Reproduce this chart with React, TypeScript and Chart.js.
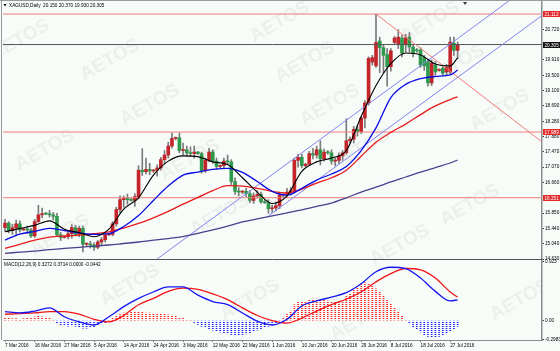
import React, { useEffect, useRef } from 'react';
import { Chart, registerables } from 'chart.js';

Chart.register(...registerables);

// ---------- data ----------
const dateTickLabels = ['7 Mar 2016','16 Mar 2016','27 Mar 2016','5 Apr 2016','14 Apr 2016','24 Apr 2016','3 May 2016','12 May 2016','22 May 2016','1 Jun 2016','10 Jun 2016','20 Jun 2016','29 Jun 2016','8 Jul 2016','18 Jul 2016','27 Jul 2016'];
const barsPerDateTick = 8;

const opens = [15.46,15.58,15.38,15.46,15.56,15.40,15.42,15.40,15.24,15.62,15.80,15.83,15.82,15.80,15.76,15.27,15.20,15.22,15.30,15.46,15.28,15.44,15.02,15.03,15.00,14.94,15.08,15.14,15.27,15.28,15.56,15.94,16.20,16.24,16.20,16.18,16.28,16.98,16.94,17.00,16.96,16.98,17.04,17.26,17.38,17.62,17.82,17.84,17.50,17.52,17.44,17.42,17.46,17.42,16.96,17.24,17.46,17.22,17.08,17.10,17.22,17.20,16.68,16.42,16.40,16.42,16.36,16.18,16.30,16.34,16.14,16.12,15.96,15.98,16.04,16.32,16.34,16.40,16.44,17.24,17.32,17.10,17.14,17.42,17.38,17.52,17.28,17.46,17.44,17.22,17.24,17.36,17.44,17.76,17.80,18.06,18.00,18.36,18.76,19.84,19.74,20.40,20.22,20.04,19.72,20.36,20.30,20.48,20.30,20.50,20.24,20.16,20.16,19.96,19.84,19.29,19.76,19.62,19.68,19.58,19.58,20.34,20.15];
const highs = [15.68,15.62,15.55,15.66,15.64,15.44,15.50,15.44,15.68,16.05,15.98,15.86,15.92,15.86,15.84,15.34,15.24,15.34,15.54,15.52,15.50,15.50,15.06,15.10,15.06,15.12,15.20,15.30,15.30,15.62,16.00,16.30,16.30,16.35,16.24,16.36,17.10,17.55,17.30,17.16,17.00,17.12,17.32,17.50,17.72,17.96,17.86,17.96,17.70,17.62,17.60,17.62,17.48,17.46,17.30,17.56,17.52,17.30,17.12,17.30,17.38,17.26,16.78,16.52,16.44,16.50,16.44,16.38,16.44,16.40,16.18,16.20,16.06,16.14,16.40,16.36,16.50,16.52,17.30,17.40,17.40,17.16,17.48,17.56,17.62,17.76,17.54,17.50,17.52,17.30,17.44,17.50,18.34,17.86,18.14,18.16,18.40,18.82,19.98,20.02,21.11,20.50,20.30,20.20,20.20,20.52,20.70,20.55,20.58,20.62,20.30,20.20,20.22,20.02,19.90,19.90,19.86,19.66,19.72,19.78,20.50,20.50,20.37];
const lows = [15.36,15.32,15.28,15.26,15.34,15.38,15.30,15.20,15.20,15.60,15.72,15.80,15.74,15.66,15.22,15.12,15.18,15.16,15.18,15.24,15.22,14.82,14.98,14.92,14.86,14.90,14.98,15.08,15.25,15.24,15.50,15.85,16.00,16.08,16.16,16.02,16.22,16.84,16.88,16.86,16.92,16.82,16.98,17.14,17.30,17.56,17.78,17.44,17.38,17.36,17.34,17.30,17.40,16.90,16.92,17.20,17.16,17.00,17.04,17.02,17.12,16.60,16.34,16.30,16.36,16.28,16.12,16.10,16.24,16.10,16.10,15.84,15.86,15.90,15.96,16.28,16.26,16.32,16.40,17.06,17.04,17.06,17.10,17.28,17.30,17.12,17.22,17.40,17.14,17.10,17.16,17.24,17.40,17.70,17.70,17.88,17.95,18.10,18.70,19.76,19.70,19.56,19.56,19.20,19.60,20.32,20.20,19.98,20.10,20.10,19.98,20.10,19.70,19.62,19.20,19.22,19.50,19.60,19.50,19.48,19.52,20.02,19.93];
const closes = [15.58,15.38,15.46,15.56,15.40,15.42,15.40,15.24,15.62,15.80,15.83,15.82,15.80,15.76,15.27,15.20,15.22,15.30,15.46,15.28,15.44,15.02,15.03,15.00,14.94,15.08,15.14,15.27,15.28,15.56,15.94,16.20,16.24,16.20,16.18,16.28,16.98,16.94,17.00,16.96,16.98,17.04,17.26,17.38,17.62,17.82,17.84,17.50,17.52,17.44,17.42,17.46,17.42,16.96,17.24,17.46,17.22,17.08,17.10,17.22,17.20,16.68,16.42,16.40,16.42,16.36,16.18,16.30,16.34,16.14,16.12,15.96,15.98,16.04,16.32,16.34,16.40,16.44,17.24,17.32,17.10,17.14,17.42,17.38,17.52,17.28,17.46,17.44,17.22,17.24,17.36,17.44,17.76,17.80,18.06,18.00,18.36,18.76,19.94,19.96,20.36,20.22,20.02,19.72,20.14,20.48,20.50,20.08,20.48,20.24,20.08,20.14,19.76,19.74,19.29,19.81,19.58,19.64,19.55,19.71,20.37,20.15,20.305];

// moving averages read at every 4th bar (and the last bar)
const maBarIndex = [0,4,8,12,16,20,24,28,32,36,40,44,48,52,56,60,64,68,72,76,80,84,88,92,96,100,104,108,112,116,120,122];
const maBlack = [15.35,15.44,15.52,15.64,15.42,15.33,15.22,15.42,15.95,16.25,16.85,17.22,17.36,17.34,17.20,17.13,16.78,16.40,16.10,16.30,16.95,17.20,17.30,17.50,18.40,19.22,19.80,20.08,20.03,19.79,19.74,19.95];
const maBlue = [15.13,15.29,15.36,15.44,15.38,15.32,15.28,15.30,15.49,15.78,16.18,16.56,16.85,16.93,17.00,17.03,16.92,16.68,16.42,16.32,16.50,16.72,16.88,17.08,17.50,18.10,18.90,19.25,19.40,19.46,19.50,19.63];
const maRed = [14.91,15.02,15.13,15.21,15.24,15.26,15.30,15.35,15.45,15.57,15.72,15.89,16.08,16.26,16.44,16.57,16.56,16.50,16.42,16.38,16.48,16.64,16.78,16.98,17.35,17.72,17.98,18.20,18.45,18.68,18.85,18.92];
const maNavy = [14.78,14.81,14.84,14.88,14.91,14.94,14.97,15.00,15.04,15.08,15.13,15.17,15.22,15.31,15.40,15.50,15.61,15.69,15.77,15.85,15.93,16.02,16.11,16.25,16.40,16.53,16.67,16.80,16.93,17.05,17.17,17.25];

const macdMain = [0.14,0.12,0.15,0.20,0.06,-0.02,-0.07,0.06,0.22,0.35,0.45,0.53,0.53,0.40,0.30,0.25,0.12,-0.01,-0.07,0.02,0.23,0.31,0.37,0.44,0.58,0.77,0.84,0.82,0.67,0.46,0.31,0.327];
const macdSignal = [0.10,0.11,0.12,0.14,0.14,0.10,0.02,-0.02,0.08,0.25,0.35,0.46,0.51,0.49,0.42,0.33,0.20,0.08,0.00,-0.04,0.04,0.15,0.25,0.34,0.45,0.61,0.74,0.82,0.80,0.67,0.45,0.371];
const macdHist = [0.05,0.04,0.03,0.03,0.02,0.03,0.04,0.05,0.06,0.07,0.06,0.05,0.05,
  0.02,-0.04,-0.07,-0.08,-0.09,-0.08,-0.09,-0.10,-0.12,-0.12,-0.11,-0.10,-0.08,-0.05,-0.03,0.02,
  0.05,0.08,0.10,0.12,0.12,0.13,0.14,0.14,0.13,0.12,0.12,0.11,0.11,0.10,0.10,0.09,0.08,0.07,0.05,0.04,0.02,0.01,
  -0.03,-0.06,-0.09,-0.11,-0.13,-0.15,-0.17,-0.18,-0.19,-0.20,-0.22,-0.23,-0.23,-0.22,-0.21,-0.19,-0.17,-0.15,-0.13,-0.11,-0.09,-0.06,-0.04,-0.02,
  0.05,0.10,0.15,0.25,0.30,0.30,0.30,0.32,0.34,0.34,0.33,0.32,0.31,0.30,0.30,0.30,0.33,0.38,0.42,0.48,0.52,0.58,0.60,0.58,0.55,0.50,0.45,0.40,0.33,0.27,0.20,0.13,0.07,0.02,
  -0.05,-0.10,-0.14,-0.18,-0.22,-0.25,-0.26,-0.26,-0.25,-0.23,-0.20,-0.17,-0.13,-0.09];

const priceTickValues = [14.63,15.035,15.44,15.845,16.656,17.061,17.466,17.871,18.276,18.681,19.086,19.491,19.896,20.707];
const priceTickLabels = ['14.630','15.040','15.440','15.850','16.660','17.070','17.470','17.880','18.280','18.690','19.100','19.500','19.910','20.720'];
const macdTickValues = [0.923, 0, -0.2983];
const macdTickLabels = ['0.923', '0.00', '-0.2983'];

const redLevels = [21.112, 17.989, 16.251];
const redLevelLabels = ['21.112', '17.989', '16.251'];
const bidPrice = 20.305;
const bidLabel = '20.305';

// drawn trend lines: [barIndex, price] pairs
const upperChannel = [[41, 14.63], [150, 22.48]];
const lowerChannel = [[71, 15.77], [150, 21.45]];
const resistanceLine = [[100, 21.112], [150, 17.33]];

const titleText = 'XAGUSD,Daily  20.150 20.370 19.930 20.305';
const macdTitle = 'MACD(12,26,9) 0.3272 0.3714 0.0000 -0.0442';

// ---------- styling ----------
const X_MIN = -0.54;
const X_MAX = 144.74;
const BULL = '#c3252a';
const BEAR = '#2e9a4b';
const WICK = '#7b7b7b';
const BG = '#f7fcf9';
const FONT = '"Liberation Sans", Arial, sans-serif';
const FS = 4.7;

const watermarkSpots = [
  [45, 150], [150, 105], [190, 160], [220, 215], [280, 22], [305, 62], [330, 105], [360, 150],
  [430, 22], [455, 65], [500, 110], [470, 205], [400, 245], [110, 60], [60, 235], [130, 285], [360, 320], [250, 300], [520, 300], [20, 40]
];

function dotted(color: string) {
  const c = document.createElement('canvas');
  c.width = 1; c.height = 2;
  const g = c.getContext('2d') as CanvasRenderingContext2D;
  g.fillStyle = color;
  g.fillRect(0, 0, 1, 1);
  const ctx = document.createElement('canvas').getContext('2d') as CanvasRenderingContext2D;
  return ctx.createPattern(c, 'repeat') as CanvasPattern;
}

const overlay = {
  id: 'mt4Overlay',
  beforeDraw(chart: any) {
    const { ctx, width, height } = chart;
    ctx.save();
    ctx.fillStyle = BG;
    ctx.fillRect(0, 0, width, height);
    ctx.restore();
  },
  beforeDatasetsDraw(chart: any) {
    const { ctx, chartArea } = chart;
    ctx.save();
    ctx.beginPath();
    ctx.rect(chartArea.left, chartArea.top, chartArea.right - chartArea.left, chartArea.bottom - chartArea.top);
    ctx.clip();
    ctx.fillStyle = 'rgba(120,120,120,0.09)';
    ctx.font = 'bold 19px ' + FONT;
    ctx.textAlign = 'center';
    ctx.textBaseline = 'middle';
    for (const [x, y] of watermarkSpots) {
      ctx.save();
      ctx.translate(x, y);
      ctx.rotate(-0.52);
      ctx.fillText('AETOS', 0, 0);
      ctx.restore();
    }
    ctx.restore();
  },
  afterDraw(chart: any) {
    const { ctx, chartArea, scales } = chart;
    const ys = scales.y;
    const ym = scales.y2;
    ctx.save();
    ctx.strokeStyle = '#9a9a9a';
    ctx.lineWidth = 1;
    ctx.beginPath();
    ctx.moveTo(0, 0.5); ctx.lineTo(chart.width, 0.5);
    ctx.moveTo(1.5, 0); ctx.lineTo(1.5, chartArea.bottom);
    ctx.stroke();
    ctx.strokeStyle = '#555';
    ctx.beginPath();
    ctx.moveTo(chartArea.left, ys.bottom + 0.5); ctx.lineTo(chartArea.right, ys.bottom + 0.5);
    ctx.stroke();
    ctx.font = FS + 'px ' + FONT;
    ctx.textBaseline = 'middle';
    ctx.textAlign = 'left';
    const box = (v: number, label: string, color: string) => {
      const py = Math.round(ys.getPixelForValue(v));
      ctx.fillStyle = color;
      ctx.fillRect(chartArea.right + 1, py - 3, 17, 6);
      ctx.fillStyle = '#ffffff';
      ctx.fillText(label, chartArea.right + 2.5, py + 0.3);
    };
    redLevels.forEach((v, k) => box(v, redLevelLabels[k], '#e32a2a'));
    box(bidPrice, bidLabel, '#111111');
    ctx.fillStyle = '#000';
    ctx.textBaseline = 'middle';
    ctx.fillText(titleText, 9, 5.5);
    ctx.fillText(macdTitle, chartArea.left + 1, ym.top + 6);
    ctx.beginPath();
    ctx.moveTo(3.5, 4); ctx.lineTo(6.5, 4); ctx.lineTo(5, 6.5); ctx.closePath();
    ctx.fill();
    const sx = scales.x.getPixelForValue(124);
    ctx.fillStyle = '#333';
    ctx.beginPath();
    ctx.moveTo(sx - 2, chartArea.top + 1); ctx.lineTo(sx + 2, chartArea.top + 1); ctx.lineTo(sx, chartArea.top + 4); ctx.closePath();
    ctx.fill();
    ctx.restore();
  }
};

export default function App() {
  const ref = useRef<HTMLCanvasElement | null>(null);
  useEffect(() => {
    document.body.style.margin = '0';
    const idx = closes.map((_, i) => i);
    const line = (pts: number[][]) => pts.map(([x, y]) => ({ x, y }));
    const maData = (vals: number[]) => maBarIndex.map((x, k) => ({ x, y: vals[k] }));
    const lineDs = (label: string, data: any[], color: string, width: number, yAxisID = 'y', tension = 0.3) => ({
      type: 'line' as const, label, data, borderColor: color, borderWidth: width, pointRadius: 0,
      tension, cubicInterpolationMode: 'monotone' as const, yAxisID, fill: false,
    });
    const fullWidth = (v: number) => [[X_MIN, v], [X_MAX, v]];
    const histRed = dotted('#ff1a1a');
    const histBlue = dotted('#1a1aff');

    const chart = new Chart(ref.current as HTMLCanvasElement, {
      type: 'bar',
      data: {
        datasets: [
          lineDs('MA fast', maData(maBlack), '#000000', 1.1),
          lineDs('MA mid', maData(maBlue), '#0a0ae6', 1.3),
          lineDs('MA slow', maData(maRed), '#e81b1b', 1.3),
          lineDs('MA long', maData(maNavy), '#4a3f8c', 1.3),
          lineDs('Resistance', line(resistanceLine), '#f07a7a', 1, 'y', 0),
          lineDs('Upper channel', line(upperChannel), '#8282ee', 1, 'y', 0),
          lineDs('Lower channel', line(lowerChannel), '#8282ee', 1, 'y', 0),
          ...redLevels.map((v) => lineDs('Level ' + v, line(fullWidth(v)), '#f07c7c', 1, 'y', 0)),
          lineDs('Bid', line(fullWidth(bidPrice)), '#555555', 1, 'y', 0),
          {
            type: 'bar' as const, label: 'Body', yAxisID: 'y',
            data: idx.map((i) => ({ x: i, y: [opens[i], closes[i]] })),
            backgroundColor: idx.map((i) => (closes[i] >= opens[i] ? BULL : BEAR)),
            barThickness: 3, grouped: false, minBarLength: 1,
          },
          {
            type: 'bar' as const, label: 'Wick', yAxisID: 'y',
            data: idx.map((i) => ({ x: i, y: [lows[i], highs[i]] })),
            backgroundColor: WICK, barThickness: 1, grouped: false,
          },
          lineDs('MACD', maData(macdMain), '#1414f0', 1.3, 'y2'),
          lineDs('Signal', maData(macdSignal), '#f01414', 1.3, 'y2'),
          {
            type: 'bar' as const, label: 'Histogram', yAxisID: 'y2',
            data: idx.map((i) => ({ x: i, y: macdHist[i] })),
            backgroundColor: idx.map((i) => (macdHist[i] >= 0 ? histRed : histBlue)),
            barThickness: 1, grouped: false,
          },
        ] as any,
      },
      options: {
        responsive: false,
        animation: false,
        devicePixelRatio: 1,
        events: [],
        layout: { padding: { left: 3, right: 0, top: 1, bottom: 0 } },
        plugins: { legend: { display: false }, tooltip: { enabled: false } },
        scales: {
          x: {
            type: 'linear', min: X_MIN, max: X_MAX, offset: false, position: 'bottom',
            grid: { display: true, drawOnChartArea: false, drawTicks: true, tickLength: 2, color: '#777', offset: false },
            border: { color: '#8c8c8c', width: 1 },
            ticks: {
              autoSkip: false, maxRotation: 0, align: 'start', padding: 1, color: '#000',
              font: { family: FONT, size: FS },
              callback: (_v: any, i: number) => dateTickLabels[i],
            },
            afterBuildTicks: (s: any) => { s.ticks = dateTickLabels.map((_, k) => ({ value: k * barsPerDateTick })); },
            afterFit: (s: any) => { s.height = 11; s.paddingLeft = 0; s.paddingRight = 0; },
          },
          y: {
            type: 'linear', position: 'right', stack: 'panes', stackWeight: 258, min: 14.63, max: 21.457,
            grid: { drawOnChartArea: false, drawTicks: true, tickLength: 2, color: '#333' },
            border: { color: '#8c8c8c', width: 1.5 },
            ticks: { padding: 1, color: '#000', font: { family: FONT, size: FS }, callback: (_v: any, i: number) => priceTickLabels[i] },
            afterBuildTicks: (s: any) => { s.ticks = priceTickValues.map((value) => ({ value })); },
            afterFit: (s: any) => { s.width = 18; s.paddingTop = 0; s.paddingBottom = 0; },
          },
          y2: {
            type: 'linear', position: 'right', stack: 'panes', stackWeight: 81, min: -0.306, max: 0.97,
            grid: { drawOnChartArea: false, drawTicks: true, tickLength: 2, color: '#333' },
            border: { color: '#8c8c8c', width: 1.5 },
            ticks: { padding: 1, color: '#000', font: { family: FONT, size: FS }, callback: (_v: any, i: number) => macdTickLabels[i] },
            afterBuildTicks: (s: any) => { s.ticks = macdTickValues.map((value) => ({ value })); },
            afterFit: (s: any) => { s.width = 18; s.paddingTop = 0; s.paddingBottom = 0; },
          },
        },
      } as any,
      plugins: [overlay],
    });
    return () => chart.destroy();
  }, []);
  return (
    <div style={{ width: 560, height: 351, position: 'relative', background: BG }}>
      <canvas ref={ref} width={560} height={351} style={{ display: 'block' }} />
    </div>
  );
}
